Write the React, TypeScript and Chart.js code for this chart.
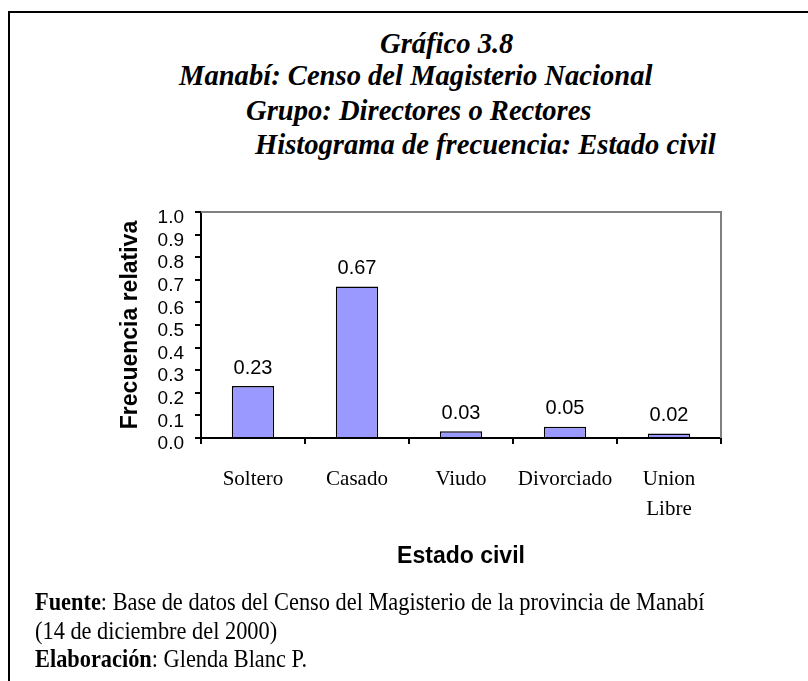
import React, { useEffect, useRef } from "react";
import { Chart, registerables } from "chart.js";

Chart.register(...registerables);

const categories: (string | string[])[] = ["Soltero", "Casado", "Viudo", "Divorciado", ["Union", "Libre"]];
const values: number[] = [0.23, 0.67, 0.03, 0.05, 0.02];
const valueLabels: string[] = ["0.23", "0.67", "0.03", "0.05", "0.02"];
const yMin = 0;
const yMax = 1;
const yStep = 0.1;

const titleLines: { text: string; x: number; top: number }[] = [
  { text: "Gráfico 3.8", x: 380, top: 29.5 },
  { text: "Manabí: Censo del Magisterio Nacional", x: 179, top: 62 },
  { text: "Grupo: Directores o Rectores", x: 246, top: 97 },
  { text: "Histograma de frecuencia: Estado civil", x: 255, top: 131 },
];

const frame = {
  id: "frame",
  beforeDatasetsDraw(chart: any) {
    const { ctx, chartArea } = chart;
    const { left, top, right, bottom } = chartArea;
    ctx.save();
    ctx.strokeStyle = "#808080";
    ctx.lineWidth = 2;
    ctx.beginPath();
    ctx.moveTo(left, top);
    ctx.lineTo(right, top);
    ctx.lineTo(right, bottom);
    ctx.stroke();
    ctx.restore();
  },
};

const dataLabels = {
  id: "dataLabels",
  afterDatasetsDraw(chart: any) {
    const { ctx } = chart;
    const meta = chart.getDatasetMeta(0);
    ctx.save();
    ctx.font = "20px 'Liberation Sans', Arial, sans-serif";
    ctx.fillStyle = "#000";
    ctx.textAlign = "center";
    ctx.textBaseline = "middle";
    meta.data.forEach((bar: any, i: number) => {
      ctx.fillText(valueLabels[i], bar.x, bar.y - 18);
    });
    ctx.restore();
  },
};

export default function App() {
  const ref = useRef<HTMLCanvasElement | null>(null);

  useEffect(() => {
    if (!ref.current) return;
    const chart = new Chart(ref.current, {
      type: "bar",
      data: {
        labels: categories,
        datasets: [
          {
            data: values,
            backgroundColor: "#9999FF",
            borderColor: "#000000",
            borderWidth: 1.5,
            barPercentage: 0.407,
            categoryPercentage: 1,
          },
        ],
      },
      options: {
        responsive: false,
        animation: false,
        devicePixelRatio: 1,
        layout: { padding: { left: 100, top: 212, right: 87, bottom: 109 } },
        plugins: {
          legend: { display: false },
          tooltip: { enabled: false },
          title: { display: false },
        },
        scales: {
          x: {
            grid: {
              display: true,
              drawOnChartArea: false,
              drawTicks: true,
              tickLength: 6,
              color: "#000",
              lineWidth: 2,
              offset: true,
            },
            border: { display: true, color: "#000", width: 2 },
            ticks: {
              color: "#000",
              font: { family: "'Liberation Serif', 'Times New Roman', serif", size: 21, lineHeight: 1.45 },
              padding: 20,
              maxRotation: 0,
              autoSkip: false,
            },
            title: {
              display: true,
              text: "Estado civil",
              color: "#000",
              font: { family: "'Liberation Sans', Arial, sans-serif", size: 23, weight: "bold" },
              padding: { top: 0, bottom: 2 },
            },
            afterFit: (s: any) => {
              s.height = 134;
            },
          },
          y: {
            min: yMin,
            max: yMax,
            ticks: {
              stepSize: yStep,
              autoSkip: false,
              color: "#000",
              font: { family: "'Liberation Sans', Arial, sans-serif", size: 19, lineHeight: 1 },
              padding: 11,
              labelOffset: 6,
              callback: (v: any) => Number(v).toFixed(1),
            },
            grid: {
              display: true,
              drawOnChartArea: false,
              drawTicks: true,
              tickLength: 6,
              color: "#000",
              lineWidth: 2,
            },
            border: { display: true, color: "#000", width: 2 },
            title: {
              display: true,
              text: "Frecuencia relativa",
              color: "#000",
              font: { family: "'Liberation Sans', Arial, sans-serif", size: 23, weight: "bold" },
              padding: { top: 17, bottom: 0 },
            },
            afterFit: (s: any) => {
              s.width = 101;
            },
          },
        },
      } as any,
      plugins: [frame, dataLabels],
    });
    return () => chart.destroy();
  }, []);

  return (
    <div style={{ position: "fixed", left: 0, top: 0, width: 808, height: 681, overflow: "hidden", background: "#fff" }}>
      <div
        style={{
          position: "absolute",
          left: 8,
          top: 11,
          width: 900,
          height: 800,
          borderLeft: "2px solid #000",
          borderTop: "2px solid #000",
        }}
      />
      {titleLines.map((l, i) => (
        <div
          key={i}
          style={{
            position: "absolute",
            left: l.x,
            top: l.top,
            whiteSpace: "nowrap",
            fontFamily: "'Liberation Serif', 'Times New Roman', serif",
            fontStyle: "italic",
            fontWeight: "bold",
            fontSize: 28.6,
            lineHeight: "28.6px",
            color: "#000",
          }}
        >
          {l.text}
        </div>
      ))}
      <canvas ref={ref} width={808} height={681} style={{ position: "absolute", left: 0, top: 0, width: 808, height: 681 }} />
      <div
        style={{
          position: "absolute",
          left: 35,
          top: 588,
          whiteSpace: "nowrap",
          fontFamily: "'Liberation Serif', 'Times New Roman', serif",
          fontSize: 26,
          lineHeight: "28.5px",
          color: "#000",
          transform: "scaleX(0.86)",
          transformOrigin: "left top",
        }}
      >
        <div>
          <b>Fuente</b>: Base de datos del Censo del Magisterio de la provincia de Manabí
        </div>
        <div>(14 de diciembre del 2000)</div>
        <div>
          <b>Elaboración</b>: Glenda Blanc P.
        </div>
      </div>
    </div>
  );
}
